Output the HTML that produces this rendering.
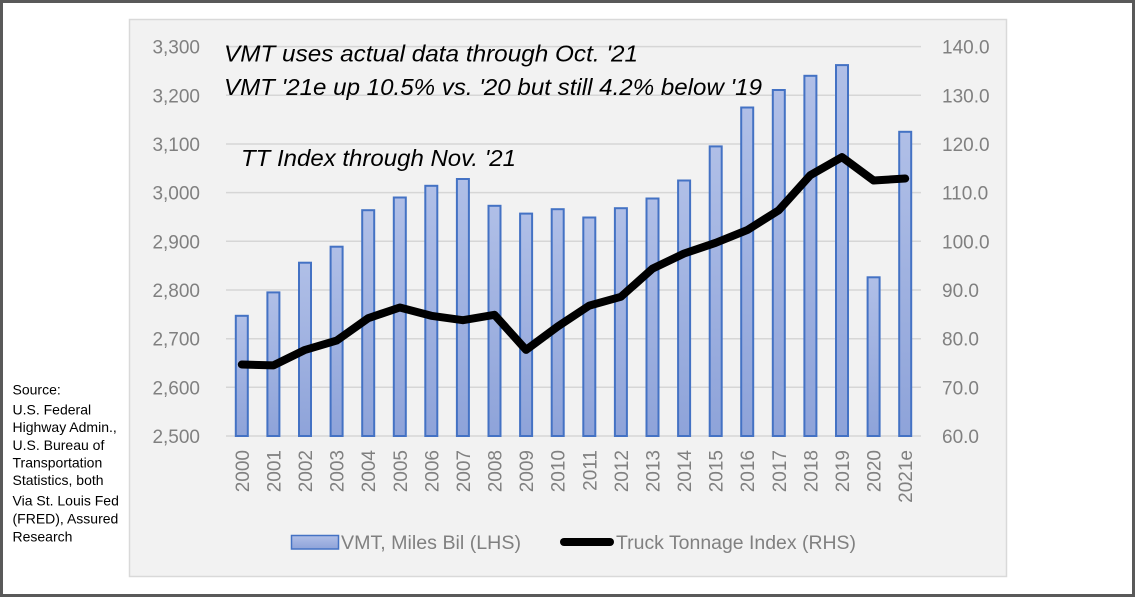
<!DOCTYPE html>
<html>
<head>
<meta charset="utf-8">
<style>
  html, body { margin: 0; padding: 0; background: #ffffff; }
  svg { display: block; }
  text { font-family: "Liberation Sans", sans-serif; }
</style>
</head>
<body>
<svg width="1135" height="597" viewBox="0 0 1135 597" xmlns="http://www.w3.org/2000/svg">
  <defs>
    <linearGradient id="barg" x1="0" y1="0" x2="0" y2="1">
      <stop offset="0" stop-color="#b0bfe7"/>
      <stop offset="1" stop-color="#8ea3d9"/>
    </linearGradient>
  </defs>

  <!-- page background and outer frame -->
  <rect x="0" y="0" width="1135" height="597" fill="#ffffff"/>
  <rect x="1.5" y="1.5" width="1132" height="594" fill="none" stroke="#595959" stroke-width="3"/>

  <!-- chart area -->
  <rect x="129.5" y="19.5" width="877" height="557" fill="#f2f2f2" stroke="#d9d9d9" stroke-width="1.5"/>

  <!-- gridlines -->
  <g stroke="#d6d6d6" stroke-width="1.5">
    <line x1="226" y1="46.6" x2="921" y2="46.6"/>
    <line x1="226" y1="95.3" x2="921" y2="95.3"/>
    <line x1="226" y1="144" x2="921" y2="144"/>
    <line x1="226" y1="192.6" x2="921" y2="192.6"/>
    <line x1="226" y1="241.3" x2="921" y2="241.3"/>
    <line x1="226" y1="290" x2="921" y2="290"/>
    <line x1="226" y1="338.7" x2="921" y2="338.7"/>
    <line x1="226" y1="387.3" x2="921" y2="387.3"/>
    <line x1="226" y1="436" x2="921" y2="436"/>
  </g>

  <!-- left axis labels -->
  <g font-size="19" fill="#808080" text-anchor="end">
    <text x="200" y="53.6">3,300</text>
    <text x="200" y="102.3">3,200</text>
    <text x="200" y="151">3,100</text>
    <text x="200" y="199.6">3,000</text>
    <text x="200" y="248.3">2,900</text>
    <text x="200" y="297">2,800</text>
    <text x="200" y="345.7">2,700</text>
    <text x="200" y="394.3">2,600</text>
    <text x="200" y="443">2,500</text>
  </g>

  <!-- right axis labels -->
  <g font-size="19" fill="#808080" text-anchor="start">
    <text x="942" y="53.6">140.0</text>
    <text x="942" y="102.3">130.0</text>
    <text x="942" y="151">120.0</text>
    <text x="942" y="199.6">110.0</text>
    <text x="942" y="248.3">100.0</text>
    <text x="942" y="297">90.0</text>
    <text x="942" y="345.7">80.0</text>
    <text x="942" y="394.3">70.0</text>
    <text x="942" y="443">60.0</text>
  </g>

  <!-- bars -->
  <g fill="url(#barg)" stroke="#4472c4" stroke-width="2">
    <rect x="235.8" y="315.8" width="12" height="120.2"/>
    <rect x="267.4" y="292.4" width="12" height="143.6"/>
    <rect x="299.0" y="262.7" width="12" height="173.3"/>
    <rect x="330.6" y="246.7" width="12" height="189.3"/>
    <rect x="362.2" y="210.2" width="12" height="225.8"/>
    <rect x="393.8" y="197.5" width="12" height="238.5"/>
    <rect x="425.3" y="185.8" width="12" height="250.2"/>
    <rect x="456.9" y="179.0" width="12" height="257.0"/>
    <rect x="488.5" y="205.8" width="12" height="230.2"/>
    <rect x="520.1" y="213.6" width="12" height="222.4"/>
    <rect x="551.7" y="209.2" width="12" height="226.8"/>
    <rect x="583.3" y="217.5" width="12" height="218.5"/>
    <rect x="614.9" y="208.2" width="12" height="227.8"/>
    <rect x="646.5" y="198.5" width="12" height="237.5"/>
    <rect x="678.1" y="180.5" width="12" height="255.5"/>
    <rect x="709.7" y="146.4" width="12" height="289.6"/>
    <rect x="741.2" y="107.5" width="12" height="328.5"/>
    <rect x="772.8" y="90.0" width="12" height="346.0"/>
    <rect x="804.4" y="75.8" width="12" height="360.2"/>
    <rect x="836.0" y="65.1" width="12" height="370.9"/>
    <rect x="867.6" y="277.3" width="12" height="158.7"/>
    <rect x="899.2" y="131.8" width="12" height="304.2"/>
  </g>

  <!-- truck tonnage line -->
  <polyline fill="none" stroke="#000000" stroke-width="8" stroke-linejoin="round" stroke-linecap="round"
    points="241.8,364.5 273.4,365.4 305.0,349.9 336.6,340.6 368.2,318.2 399.8,307.5 431.3,315.8 462.9,320.2 494.5,314.8 526.1,349.9 557.7,326.5 589.3,305.6 620.9,296.8 652.5,268.6 684.1,253.5 715.7,242.8 747.2,230.1 778.8,210.2 810.4,175.1 842.0,157.1 873.6,180.5 905.2,178.5"/>

  <!-- x-axis labels (rotated) -->
  <g font-size="19" fill="#808080" text-anchor="end">
    <text transform="translate(248.8,450) rotate(-90)">2000</text>
    <text transform="translate(280.4,450) rotate(-90)">2001</text>
    <text transform="translate(312.0,450) rotate(-90)">2002</text>
    <text transform="translate(343.6,450) rotate(-90)">2003</text>
    <text transform="translate(375.2,450) rotate(-90)">2004</text>
    <text transform="translate(406.8,450) rotate(-90)">2005</text>
    <text transform="translate(438.3,450) rotate(-90)">2006</text>
    <text transform="translate(469.9,450) rotate(-90)">2007</text>
    <text transform="translate(501.5,450) rotate(-90)">2008</text>
    <text transform="translate(533.1,450) rotate(-90)">2009</text>
    <text transform="translate(564.7,450) rotate(-90)">2010</text>
    <text transform="translate(596.3,450) rotate(-90)">2011</text>
    <text transform="translate(627.9,450) rotate(-90)">2012</text>
    <text transform="translate(659.5,450) rotate(-90)">2013</text>
    <text transform="translate(691.1,450) rotate(-90)">2014</text>
    <text transform="translate(722.7,450) rotate(-90)">2015</text>
    <text transform="translate(754.2,450) rotate(-90)">2016</text>
    <text transform="translate(785.8,450) rotate(-90)">2017</text>
    <text transform="translate(817.4,450) rotate(-90)">2018</text>
    <text transform="translate(849.0,450) rotate(-90)">2019</text>
    <text transform="translate(880.6,450) rotate(-90)">2020</text>
    <text transform="translate(912.2,450) rotate(-90)">2021e</text>
  </g>

  <!-- annotations -->
  <g font-size="23" font-style="italic" fill="#000000">
    <text x="224" y="61.5" textLength="414" lengthAdjust="spacingAndGlyphs">VMT uses actual data through Oct. '21</text>
    <text x="224" y="95" textLength="538" lengthAdjust="spacingAndGlyphs">VMT '21e up 10.5% vs. '20 but still 4.2% below '19</text>
    <text x="241" y="166" textLength="275" lengthAdjust="spacingAndGlyphs">TT Index through Nov. '21</text>
  </g>

  <!-- legend -->
  <rect x="291.5" y="535.5" width="47" height="13.5" fill="url(#barg)" stroke="#4472c4" stroke-width="1.5"/>
  <text x="341" y="549" font-size="19" fill="#808080" textLength="180" lengthAdjust="spacingAndGlyphs">VMT, Miles Bil (LHS)</text>
  <line x1="564" y1="542" x2="610" y2="542" stroke="#000000" stroke-width="8" stroke-linecap="round"/>
  <text x="616" y="549" font-size="19" fill="#808080" textLength="240" lengthAdjust="spacingAndGlyphs">Truck Tonnage Index (RHS)</text>

  <!-- source text -->
  <g font-size="14" fill="#000000">
    <text x="12.5" y="394.5">Source:</text>
    <text x="12.5" y="414.5">U.S. Federal</text>
    <text x="12.5" y="432">Highway Admin.,</text>
    <text x="12.5" y="450">U.S. Bureau of</text>
    <text x="12.5" y="467.5">Transportation</text>
    <text x="12.5" y="485">Statistics, both</text>
    <text x="12.5" y="505.5">Via St. Louis Fed</text>
    <text x="12.5" y="523.5">(FRED), Assured</text>
    <text x="12.5" y="541.5">Research</text>
  </g>
</svg>
</body>
</html>
